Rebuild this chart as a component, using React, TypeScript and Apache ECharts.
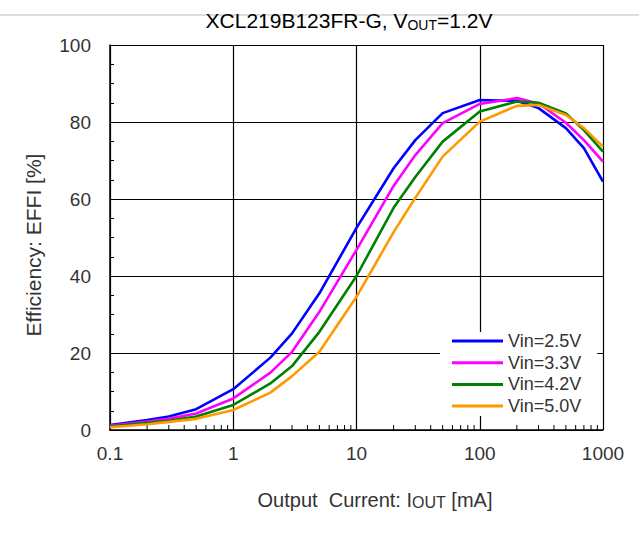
import React, { useEffect, useRef } from "react";
import * as echarts from "echarts";

const currents = [0.1, 0.2, 0.3, 0.5, 1, 2, 3, 5, 10, 20, 30, 50, 100, 200, 300, 500, 700, 1000];
const vin25 = [1.3, 2.6, 3.5, 5.4, 10.6, 18.8, 25.1, 35.5, 52.5, 68, 75.3, 82.3, 85.7, 85.5, 83.6, 78.4, 73.2, 64.5];
const vin33 = [1.1, 2.2, 2.9, 4.3, 8.2, 14.9, 20.3, 30.7, 46.8, 63.4, 71.4, 79.7, 84.7, 86.2, 84.8, 79.8, 75.3, 69.7];
const vin42 = [0.9, 1.9, 2.4, 3.5, 6.5, 12.1, 16.6, 25.5, 40, 57.7, 65.7, 74.9, 82.7, 85.3, 85, 82.2, 77.9, 72.3];
const vin50 = [0.7, 1.5, 2.1, 2.9, 5.2, 9.7, 14, 20.3, 34.6, 51.4, 60.3, 71, 80.1, 84.2, 84.4, 81.8, 78.4, 73.6];
const seriesNames = ["Vin=2.5V", "Vin=3.3V", "Vin=4.2V", "Vin=5.0V"];
const seriesColors = ["#0000ff", "#ff00ff", "#008000", "#ff9900"];
const decades = [0.1, 1, 10, 100];
const minorMultipliers = [2, 3, 4, 5, 6, 7, 8, 9];

const FONT = "'Liberation Sans', Arial, sans-serif";

export default function App() {
  const ref = useRef<HTMLDivElement>(null);
  useEffect(() => {
    if (!ref.current) return;
    const chart = echarts.init(ref.current, null, { renderer: "svg" });
    const allSeries = [vin25, vin33, vin42, vin50];
    const minorTicks: number[][] = [];
    decades.forEach((d) => minorMultipliers.forEach((m) => minorTicks.push([+(d * m).toPrecision(3), 0])));

    const lineSeries = allSeries.map((vals, i) => ({
      name: seriesNames[i],
      type: "line",
      data: currents.map((c, j) => [c, vals[j]]),
      showSymbol: false,
      symbol: "none",
      lineStyle: { color: seriesColors[i], width: 2.6 },
      itemStyle: { color: seriesColors[i] },
      z: 3 + i,
    }));

    chart.setOption({
      animation: false,
      backgroundColor: "#fff",
      textStyle: { fontFamily: FONT },
      grid: { left: 110, top: 45, width: 493, height: 385, outerBoundsMode: "none" },
      xAxis: {
        type: "log",
        logBase: 10,
        min: 0.1,
        max: 1000,
        axisLine: { show: true, lineStyle: { color: "#000", width: 1.5 } },
        axisTick: { show: false },
        splitLine: { show: true, lineStyle: { color: "#000", width: 1.2 } },
        axisLabel: {
          color: "#333",
          fontSize: 19,
          fontFamily: FONT,
          margin: 14,
          formatter: (v: number) => String(+v.toPrecision(3)),
        },
      },
      yAxis: {
        type: "value",
        min: 0,
        max: 100,
        interval: 20,
        axisLine: { show: true, lineStyle: { color: "#000", width: 1.5 } },
        axisTick: { show: true, inside: true, length: 5, lineStyle: { color: "#000" } },
        minorTick: { show: true, splitNumber: 4, length: 4, lineStyle: { color: "#000" } },
        splitLine: { show: true, lineStyle: { color: "#000", width: 1.2 } },
        axisLabel: { color: "#333", fontSize: 19, fontFamily: FONT, margin: 19 },
      },
      legend: {
        data: seriesNames,
        orient: "vertical",
        left: 440,
        top: 332,
        backgroundColor: "#fff",
        padding: [0, 16, 1, 12],
        itemWidth: 51,
        itemHeight: 3,
        itemGap: 3.7,
        icon: "rect",
        textStyle: { color: "#333", fontSize: 18, fontFamily: FONT, lineHeight: 18 },
        selectedMode: false,
      },
      graphic: [
        {
          type: "line",
          shape: { x1: 0, y1: 15, x2: 639, y2: 15 },
          style: { stroke: "#bbb", lineWidth: 1 },
          z: -1,
        },
        {
          type: "text",
          x: 349,
          y: 20,
          style: {
            text: "{a|XCL219B123FR-G, V}{s|OUT}{a|=1.2V}",
            align: "center",
            verticalAlign: "middle",
            fill: "#000",
            rich: {
              a: { fontSize: 21, fontFamily: FONT, fill: "#000", verticalAlign: "bottom" },
              s: { fontSize: 14, fontFamily: FONT, fill: "#000", verticalAlign: "bottom", padding: [0, 0, -1, 0] },
            },
          },
        },
        {
          type: "text",
          x: 375,
          y: 500,
          style: {
            text: "{a|Output  Current: I}{s|OUT}{a| [mA]}",
            align: "center",
            verticalAlign: "middle",
            fill: "#333",
            rich: {
              a: { fontSize: 20, fontFamily: FONT, fill: "#333", verticalAlign: "bottom" },
              s: { fontSize: 16, fontFamily: FONT, fill: "#333", verticalAlign: "bottom" },
            },
          },
        },
        {
          type: "text",
          x: 33,
          y: 245,
          rotation: Math.PI / 2,
          style: {
            text: "Efficiency: EFFI [%]",
            align: "center",
            verticalAlign: "middle",
            fontSize: 21,
            fontFamily: FONT,
            fill: "#333",
          },
        },
      ],
      series: [
        ...lineSeries,
        {
          type: "custom",
          data: minorTicks,
          silent: true,
          z: 2,
          renderItem: (params: any, api: any) => {
            const p = api.coord([api.value(0), 0]);
            return {
              type: "line",
              shape: { x1: p[0], y1: p[1], x2: p[0], y2: p[1] - 5 },
              style: { stroke: "#000", lineWidth: 1 },
            };
          },
        },
      ],
    });
    return () => chart.dispose();
  }, []);
  return (
    <div
      ref={ref}
      style={{ position: "fixed", left: 0, top: 0, width: 639, height: 539 }}
    />
  );
}
